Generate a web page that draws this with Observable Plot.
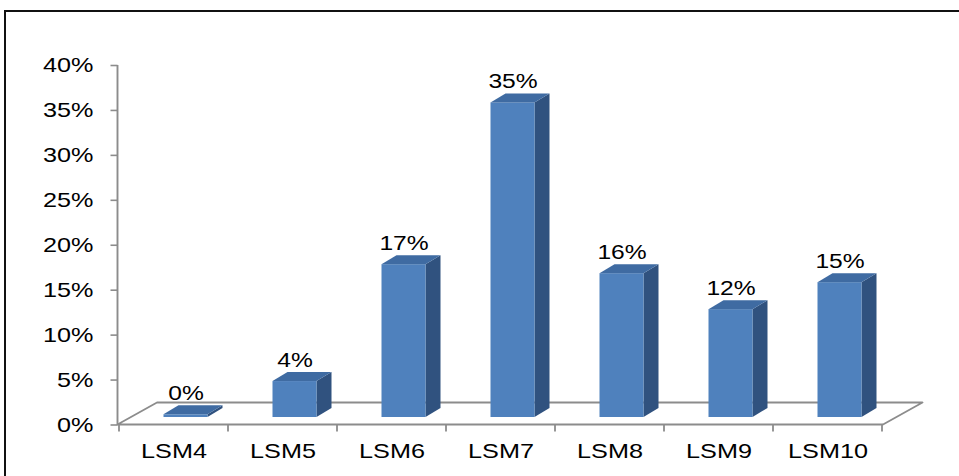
<!DOCTYPE html>
<html>
<head>
<meta charset="utf-8">
<script src="https://cdn.jsdelivr.net/npm/d3@7"></script>
<script src="https://cdn.jsdelivr.net/npm/@observablehq/plot@0.6"></script>
<style>
  html, body { margin: 0; padding: 0; background: #fff; }
  #chart { position: relative; width: 959px; height: 476px; overflow: hidden; }
  #chart .frame {
    position: absolute; left: 4px; top: 10px; width: 1200px; height: 800px;
    border-left: 2px solid #111; border-top: 2px solid #111;
  }
  #chart svg { position: absolute; left: 0; top: 0; }
</style>
</head>
<body>
<div id="chart"><div class="frame"></div></div>
<script>
// Share of respondents per LSM group
const categories = ["LSM4", "LSM5", "LSM6", "LSM7", "LSM8", "LSM9", "LSM10"];
const shares = [0.003, 0.04, 0.17, 0.35, 0.16, 0.12, 0.15];
const yTicks = [0, 0.05, 0.10, 0.15, 0.20, 0.25, 0.30, 0.35, 0.40];

const rows = categories.map((category, i) => ({category, share: shares[i]}));
const pct = d3.format(".0%");

const WIDTH = 959, HEIGHT = 476;
const TEXT_WIDEN = 1.2; // labels are drawn in a horizontally widened face

const AXIS_GRAY = "#8c8c8c";
const FRONT = "#4f81bd", TOP = "#3f6ba2", SIDE = "#30527f";

// 3-D look: floor depth, bar face placement and side depth
const FLOOR_DX = 39.5, FLOOR_DY = -22;
const BAR_SHIFT = -10, BAR_WIDTH = 44;
const SIDE_DX = 15, SIDE_DY = -9, BASE_LIFT = 7.5;

const NS = "http://www.w3.org/2000/svg";
function el(name, attrs) {
  const node = document.createElementNS(NS, name);
  for (const [k, v] of Object.entries(attrs)) node.setAttribute(k, v);
  return node;
}
const pts = (p) => p.map(([a, b]) => `${a},${b}`).join(" ");

// Floor, axis line, category ticks and the 3-D columns
function scene(index, {x, y}, values, dims) {
  const g = el("g", {});
  const bw = x.bandwidth();
  const x0 = dims.marginLeft, x1 = dims.width - dims.marginRight;
  const y0 = y(0), yMax = y(yTicks[yTicks.length - 1]);

  g.appendChild(el("polygon", {
    points: pts([[x0, y0], [x1, y0], [x1 + FLOOR_DX, y0 + FLOOR_DY], [x0 + FLOOR_DX, y0 + FLOOR_DY]]),
    fill: "#fff", stroke: AXIS_GRAY, "stroke-width": 1.8, "stroke-linejoin": "round"
  }));
  g.appendChild(el("line", {x1: x0, y1: y0, x2: x0, y2: yMax, stroke: AXIS_GRAY, "stroke-width": 1.9}));

  const bounds = categories.map((c) => x(c)).concat([x(categories[categories.length - 1]) + bw]);
  for (const xb of bounds) {
    g.appendChild(el("line", {x1: xb, y1: y0, x2: xb, y2: y0 + 7, stroke: AXIS_GRAY, "stroke-width": 1.8}));
  }

  for (const d of rows) {
    const xc = x(d.category) + bw / 2;
    const L = xc + BAR_SHIFT, R = L + BAR_WIDTH;
    const T = y(d.share) - BASE_LIFT, B = y0 - BASE_LIFT;
    g.appendChild(el("polygon", {
      points: pts([[R, T], [R + SIDE_DX, T + SIDE_DY], [R + SIDE_DX, B + SIDE_DY], [R, B]]),
      fill: SIDE
    }));
    g.appendChild(el("rect", {x: L, y: T, width: BAR_WIDTH, height: Math.max(0, B - T), fill: FRONT}));
    g.appendChild(el("polygon", {
      points: pts([[L, T], [R, T], [R + SIDE_DX, T + SIDE_DY], [L + SIDE_DX, T + SIDE_DY]]),
      fill: TOP
    }));
  }
  return g;
}

const svg = Plot.plot({
  width: WIDTH,
  height: HEIGHT,
  marginLeft: 117.5,
  marginRight: WIDTH - 883,
  marginTop: 65,
  marginBottom: HEIGHT - 424.5,
  style: {
    fontFamily: "'Liberation Sans', Arial, sans-serif",
    fontSize: "21px",
    background: "transparent",
    color: "#000"
  },
  x: {type: "band", domain: categories, padding: 0},
  y: {domain: [0, 0.4]},
  marks: [
    scene,
    Plot.axisY(yTicks, {
      tickFormat: ".0%", tickSize: 7, tickPadding: 17.5,
      stroke: AXIS_GRAY, strokeWidth: 1.6, fill: "#000", label: null
    }),
    Plot.axisX({tickSize: 0, tickPadding: 18.5, fill: "#000", label: null}),
    Plot.text(rows, {
      x: "category", y: "share", text: (d) => pct(d.share),
      dx: 12, dy: -22, lineAnchor: "bottom", fontSize: 20.5, fill: "#000"
    })
  ]
});

svg.style.maxWidth = "none";
document.getElementById("chart").appendChild(svg);

// Widen every label's glyphs while keeping its anchor point
for (const t of svg.querySelectorAll("text")) {
  const len = t.getComputedTextLength();
  if (len > 0) {
    t.setAttribute("textLength", len * TEXT_WIDEN);
    t.setAttribute("lengthAdjust", "spacingAndGlyphs");
  }
}
</script>
</body>
</html>
